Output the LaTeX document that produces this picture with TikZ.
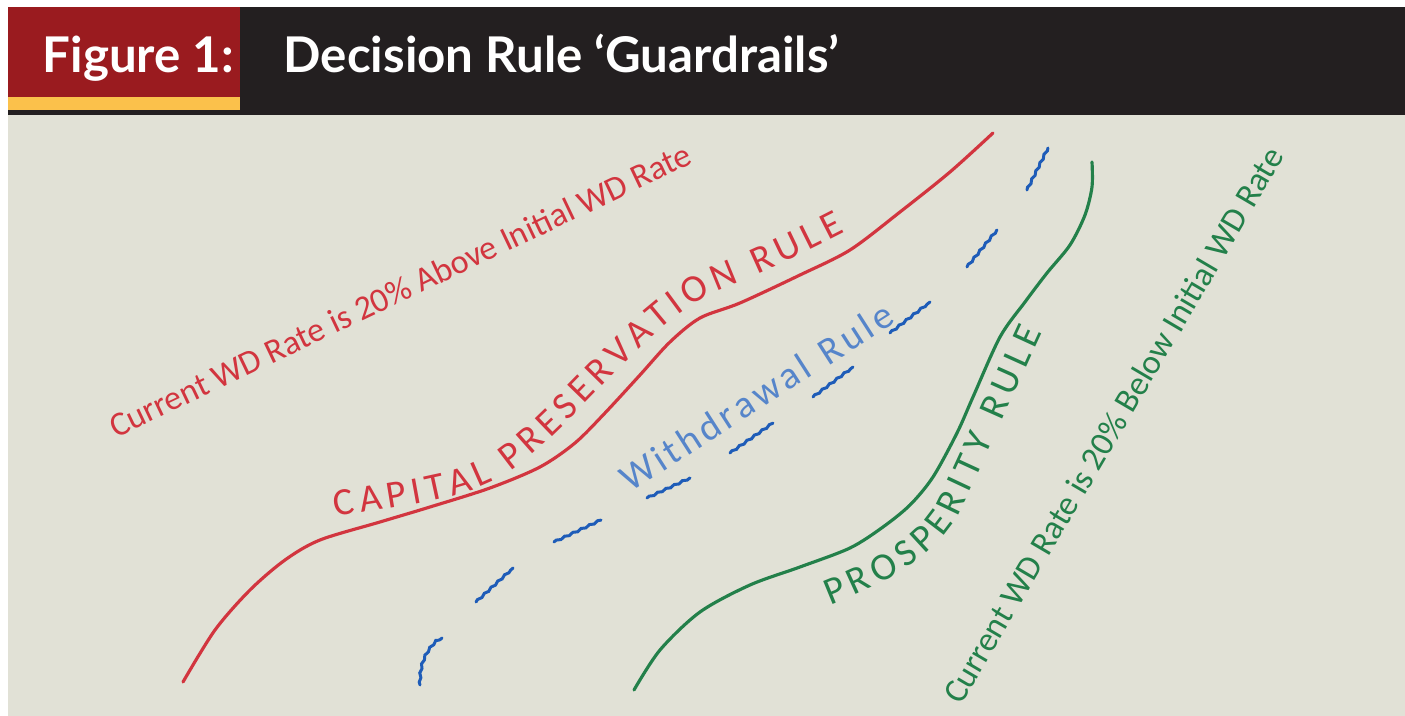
\documentclass[tikz,border=0pt]{standalone}
\usepackage{fontspec}
\setmainfont{Carlito}
\newfontfamily\headfont{Lato}
\usetikzlibrary{decorations.pathmorphing, decorations.text}
\definecolor{figred}{HTML}{9A1B1F}
\definecolor{figgold}{HTML}{FBC14B}
\definecolor{figblack}{HTML}{231F20}
\definecolor{paper}{HTML}{E1E1D6}
\definecolor{rulered}{HTML}{D2353F}
\definecolor{ruleblue}{HTML}{1E5CB8}
\definecolor{rulegreen}{HTML}{23804A}
\tikzstyle{title} = [text=white, font=\headfont\bfseries\fontsize{14}{16}\selectfont, anchor=base west, inner sep=0]
\tikzstyle{guard} = [line width=0.9pt, line cap=round]
\tikzstyle{wiggle} = [ruleblue, line width=0.85pt, line cap=round, decorate, decoration={snake, amplitude=0.22pt, segment length=2.6pt}]
\tikzstyle{bound} = [font=\fontsize{9.7}{11}\selectfont, inner sep=0]

\begin{document}
\begin{tikzpicture}[x=0.01cm, y=-0.01cm]
\useasboundingbox (0,0) rectangle (1405,716);
\fill[white] (0,0) rectangle (1405,716);
\fill[paper] (8,115) rectangle (1405,716);
\fill[figblack] (8,7) rectangle (1405,115);
\fill[figred] (8,7) rectangle (240,97);
\fill[figgold] (8,97) rectangle (240,110);

\node (fig) [title] at (42,73) {Figure 1:};
\node (head) [title] at (283,73) {Decision Rule ‘Guardrails’};

% capital preservation rule
\draw [guard, rulered] plot[smooth] coordinates {(183,682) (215,630) (250,590) (285,560) (320,540) (380,522) (430,507) (490,488) (540,467) (575,443) (605,413) (640,375) (670,342) (700,318) (740,303) (800,275) (850,250) (900,212) (950,172) (993,133)};
\path [decorate, decoration={text along path, text align=fit to path,
	text={|\color{rulered}\fontsize{11}{13}\selectfont|CAPITAL PRESERVATION RULE}}]
	(336,517) .. controls (420,502) and (470,500) .. (515,468)
	.. controls (580,420) and (650,320) .. (720,290)
	.. controls (770,270) and (810,250) .. (845,232);
\node (above) [bound, text=rulered, rotate=25.5] at (400,290) {Current WD Rate is 20\% Above Initial WD Rate};

% withdrawal rule
\draw [wiggle] (420,685) .. controls (420,662) and (428,650) .. (442,638);
\draw [wiggle] (476,602) -- (513,568);
\draw [wiggle] (554,542) -- (601,520);
\draw [wiggle] (647,498) -- (690,478);
\draw [wiggle] (730,453) -- (773,423);
\draw [wiggle] (813,397) -- (853,367);
\draw [wiggle] (890,333) -- (930,302);
\draw [wiggle] (967,267) -- (997,230);
\draw [wiggle] (1027,190) -- (1048,148);
\path [decorate, decoration={text along path, text align=fit to path,
	text={|\color{ruleblue!75!white}\fontsize{11}{13}\selectfont|Withdrawal Rule}}]
	(630,493) -- (897,322);

% prosperity rule
\draw [guard, rulegreen] plot[smooth] coordinates {(634,690) (660,650) (700,612) (750,585) (800,567) (850,548) (883,527) (910,505) (933,477) (957,433) (973,397) (1000,337) (1025,302) (1047,273) (1070,245) (1085,215) (1092,187) (1092,162)};
\path [decorate, decoration={text along path, text align=fit to path,
	text={|\color{rulegreen}\fontsize{11}{13}\selectfont|PROSPERITY RULE}}]
	(830,605) .. controls (880,585) and (935,560) .. (960,512)
	.. controls (990,450) and (1015,390) .. (1042,332);
\node (below) [bound, text=rulegreen, rotate=59.5] at (1113,425) {Current WD Rate is 20\% Below Initial WD Rate};

\end{tikzpicture}
\end{document}
